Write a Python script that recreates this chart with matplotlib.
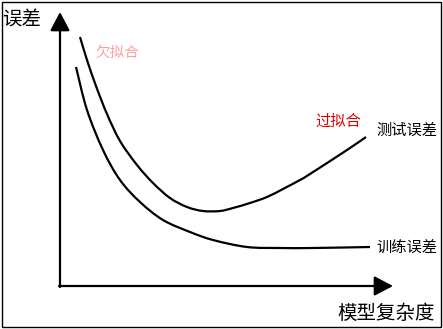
import matplotlib.pyplot as plt
from matplotlib.patches import Rectangle, PathPatch
from matplotlib.path import Path

plt.rcParams['font.family'] = ['Noto Sans CJK SC', 'DejaVu Sans']

# model complexity (x) vs error (y)
test_x = [20, 27, 36, 47, 60, 77, 93, 110, 127, 143, 160, 173, 190, 207, 223, 240, 250, 287, 306]
test_y = [249, 226, 200, 172, 145, 121, 103, 88, 79, 75, 75, 78, 83, 89, 97, 106, 112, 136, 149]

train_x = [16, 27, 43, 60, 80, 103, 130, 153, 187, 220, 253, 310]
train_y = [219, 176, 136, 106, 84, 66, 54, 46, 39, 38, 38, 39]

x_label = "模型复杂度"
y_label = "误差"
test_label = "测试误差"
train_label = "训练误差"
under_label = "欠拟合"
over_label = "过拟合"


def smooth_path(xs, ys):
    # hand-drawn look: bezier segments through the points (catmull-rom handles)
    pts = list(zip(xs, ys))
    verts = [pts[0]]
    codes = [Path.MOVETO]
    n = len(pts)
    for i in range(n - 1):
        p0 = pts[i - 1] if i > 0 else pts[i]
        p1 = pts[i]
        p2 = pts[i + 1]
        p3 = pts[i + 2] if i + 2 < n else pts[i + 1]
        c1 = (p1[0] + (p2[0] - p0[0]) / 6, p1[1] + (p2[1] - p0[1]) / 6)
        c2 = (p2[0] - (p3[0] - p1[0]) / 6, p2[1] - (p3[1] - p1[1]) / 6)
        verts += [c1, c2, p2]
        codes += [Path.CURVE4] * 3
    return Path(verts, codes)


fig = plt.figure(figsize=(4.43, 3.29), dpi=100)
ax = fig.add_axes([0, 0, 1, 1])
ax.set_xlim(-60, 383)
ax.set_ylim(-43, 286)
ax.axis('off')

# frame around the whole picture
fig.patches.append(Rectangle((0.004, 0.006), 0.991, 0.988, transform=fig.transFigure,
                             fill=False, edgecolor='black', linewidth=1.0))

# axes with arrow heads
arrow = dict(arrowstyle='-|>,head_length=0.95,head_width=0.5', mutation_scale=12,
             color='black', linewidth=1.6, shrinkA=0, shrinkB=0)
ax.annotate('', xy=(0, 274), xytext=(0, -1), arrowprops=arrow)
ax.annotate('', xy=(333, 0), xytext=(-1, 0), arrowprops=arrow)

for xs, ys in [(test_x, test_y), (train_x, train_y)]:
    ax.add_patch(PathPatch(smooth_path(xs, ys), facecolor='none',
                           edgecolor='black', linewidth=1.6, capstyle='butt'))

ax.text(-38, 266, y_label, fontsize=14, ha='center', va='center')
ax.text(326, -27, x_label, fontsize=14, ha='center', va='center')
ax.text(347, 156, test_label, fontsize=11, ha='center', va='center')
ax.text(347, 39, train_label, fontsize=11, ha='center', va='center')
ax.text(35, 233, under_label, fontsize=10.5, ha='left', va='center', color='#ff9f9f')
ax.text(278, 165, over_label, fontsize=11, ha='center', va='center', color='#e00000')

fig.savefig('out.png', dpi=100)
